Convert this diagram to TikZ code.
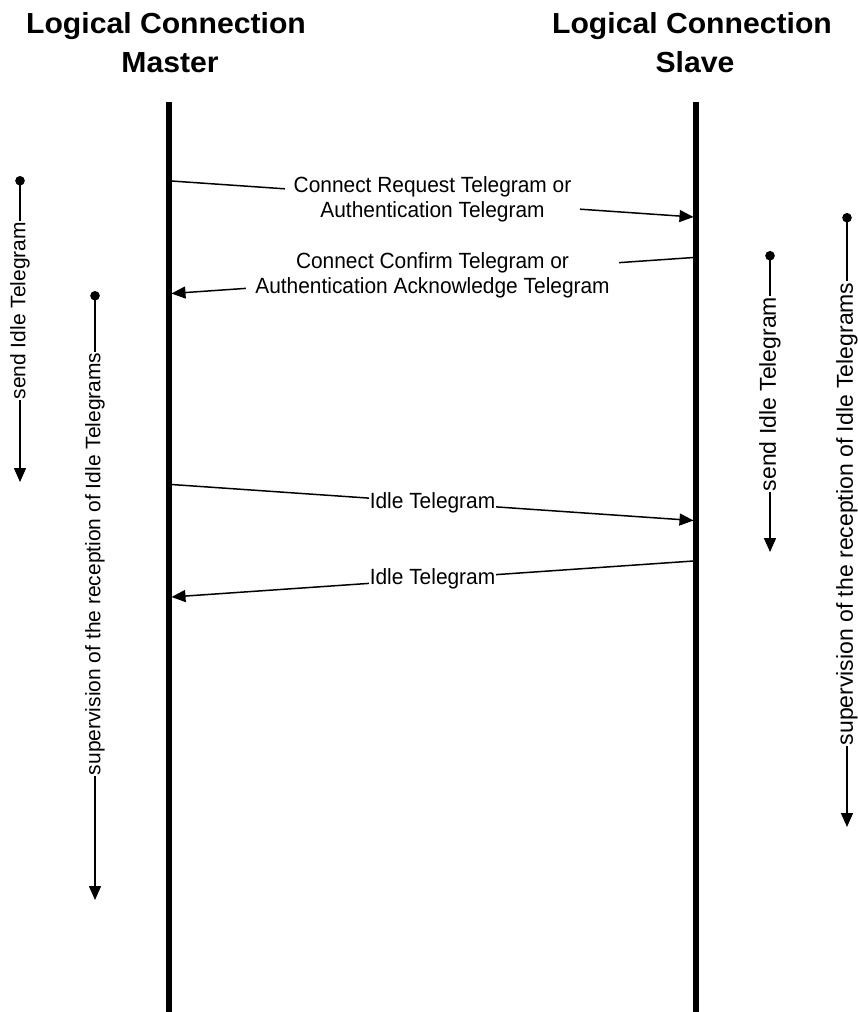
\documentclass[tikz,border=0pt]{standalone}
\usepackage{fontspec}
\setmainfont{Liberation Sans}
\newfontfamily\titlefont{Liberation Sans}[FakeStretch=1.04]
\newfontfamily\msgfont{Liberation Sans}[FakeStretch=0.95]
\usetikzlibrary{arrows.meta}
\tikzset{
  lifeline/.style={line width=5.5pt},
  msg/.style={line width=1.5pt,-{Triangle[width=12pt,length=14pt]}},
  timer/.style={line width=1.5pt,{Circle[length=9.5pt]}-{Triangle[width=12pt,length=14pt]}},
  title/.style={anchor=base,inner sep=0pt,font=\titlefont\bfseries\fontsize{29}{34}\selectfont},
  lbl/.style={fill=white,inner xsep=9pt,inner ysep=1pt,align=center,font=\msgfont\fontsize{22}{25}\selectfont},
  idlelbl/.style={fill=white,inner xsep=1pt,inner ysep=1pt,font=\msgfont\fontsize{22}{25}\selectfont},
  vlbl/.style={fill=white,inner xsep=1pt,inner ysep=0pt,rotate=90,font=\fontsize{21}{25}\selectfont},
  vlblr/.style={vlbl,font=\fontsize{23}{27}\selectfont}
}
\begin{document}
\begin{tikzpicture}[x=1pt,y=-1pt]
\useasboundingbox (0,0) rectangle (857,1012);
% titles
\node[title] (tm1) at (166,33) {Logical Connection};
\node[title] (tm2) at (170,72) {Master};
\node[title] (ts1) at (692,33) {Logical Connection};
\node[title] (ts2) at (695,72) {Slave};
% lifelines
\coordinate (Mtop) at (169,102);
\coordinate (Mbot) at (169,1012);
\coordinate (Stop) at (696,102);
\coordinate (Sbot) at (696,1012);
\draw[lifeline] (Mtop) -- (Mbot);
\draw[lifeline] (Stop) -- (Sbot);
% messages
\coordinate (a1s) at (171.5,181); \coordinate (a1e) at (693.5,217);
\coordinate (a2s) at (693.5,257.5); \coordinate (a2e) at (171.5,293.5);
\coordinate (a3s) at (171.5,484.5); \coordinate (a3e) at (693.5,520.5);
\coordinate (a4s) at (693.5,561); \coordinate (a4e) at (171.5,597);
\draw[msg] (a1s) -- node[lbl] (l1) {Connect Request Telegram or\\Authentication Telegram} (a1e);
\draw[msg] (a2s) -- node[lbl] (l2) {Connect Confirm Telegram or\\Authentication Acknowledge Telegram} (a2e);
\draw[msg] (a3s) -- node[idlelbl] (l3) {Idle Telegram} (a3e);
\draw[msg] (a4s) -- node[idlelbl] (l4) {Idle Telegram} (a4e);
% timers
\coordinate (t1s) at (20,176); \coordinate (t1e) at (20,482);
\coordinate (t2s) at (95,291); \coordinate (t2e) at (95,900);
\coordinate (t3s) at (770,251); \coordinate (t3e) at (770,552);
\coordinate (t4s) at (847,213); \coordinate (t4e) at (847,827);
\draw[timer] (t1s) -- node[vlbl,pos=0.44] (v1) {send Idle Telegram} (t1e);
\draw[timer] (t2s) -- node[vlbl,pos=0.448] (v2) {supervision of the reception of Idle Telegrams} (t2e);
\draw[timer] (t3s) -- node[vlblr,pos=0.475] (v3) {send Idle Telegram} (t3e);
\draw[timer] (t4s) -- node[vlblr,pos=0.49] (v4) {supervision of the reception of Idle Telegrams} (t4e);
\end{tikzpicture}
\end{document}
